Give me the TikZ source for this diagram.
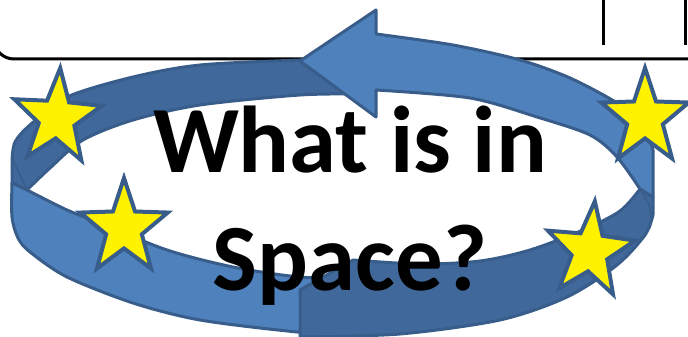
\documentclass[tikz,border=0pt]{standalone}
\usepackage{fontspec}
\setmainfont{Carlito}
\usepackage{tikz}
\usetikzlibrary{shapes.geometric}
\definecolor{ringlight}{RGB}{79,129,189}
\definecolor{ringdark}{RGB}{64,104,154}
\definecolor{ringline}{RGB}{56,93,138}
\tikzset{
    frame_line/.style={
        draw=black, line width=0.06cm
    },
    band_dark/.style={
        fill=ringdark, draw=ringline, line width=0.06cm, line join=round
    },
    band_light/.style={
        fill=ringlight, draw=ringline, line width=0.06cm, line join=round
    },
    face_line/.style={
        draw=ringline, line width=0.03cm
    },
    star_node/.style={
        star, star points=5, star point ratio=2.45, minimum size=2cm, inner sep=0pt,
        xscale=0.92, fill=yellow, draw=ringline, line width=0.08cm
    },
    title_text/.style={
        anchor=base, align=center, font=\fontsize{54pt}{66.6pt}\selectfont\bfseries
    }
}

\begin{document}
\begin{tikzpicture}[x=0.02cm, y=-0.02cm]
    \useasboundingbox (0,0) rectangle (688,337);
    \clip (0,0) rectangle (688,337);

    \draw[frame_line, rounded corners=0.4cm] (-6,-80) rectangle (720,59);
    \draw[frame_line] (603,-5) -- (603,45);
    \draw[frame_line] (685,-5) -- (685,45);

    \path[band_dark] plot[smooth] coordinates {(360,58) (300,60) (200,65) (133,77) (67,97) (30,125) (15,142) (12,160)}
        -- (12,183) -- (27,190)
        -- plot[smooth] coordinates {(27,190) (50,168) (83,140) (133,120) (200,105) (300,95) (360,94)} -- cycle;
    \path[band_light] plot[smooth] coordinates {(12,183) (12,217) (18,238) (30,252) (67,277) (133,303) (200,320) (297,332) (370,337)}
        -- (370,279)
        -- plot[smooth] coordinates {(370,279) (300,277) (233,267) (167,250) (100,223) (67,210) (27,190)} -- cycle;
    \path[band_dark] (300,337) -- (300,290) -- (353,260)
        -- plot[smooth] coordinates {(353,260) (420,264) (480,261) (530,250) (583,230) (620,211) (640,189)}
        -- (653,197) -- (653,215)
        -- plot[smooth] coordinates {(653,215) (645,235) (617,265) (567,297) (500,320) (400,334) (300,337)} -- cycle;
    \path[band_light] (300,61) -- (376,10) -- (376,34)
        -- plot[smooth] coordinates {(376,34) (453,45) (520,60) (570,78) (617,103) (643,125) (653,150)}
        -- (653,197) -- (640,189)
        -- plot[smooth] coordinates {(640,189) (617,157) (590,135) (537,117) (470,98) (376,90)}
        -- (376,117) -- cycle;
    \draw[face_line] (13,160) -- (27,190);
    \draw[face_line] plot[smooth] coordinates {(640,189) (649,205) (651,220) (650,228)};

    \node[star_node, rotate=-4] (star_nw) at (57,118) {};
    \node[star_node] (star_w) at (124,228) {};
    \node[star_node] (star_ne) at (645,118) {};
    \node[star_node, rotate=-6] (star_se) at (590,251) {};

    \node[title_text] (title) at (350,290) {What is in\\Space?};
\end{tikzpicture}
\end{document}
